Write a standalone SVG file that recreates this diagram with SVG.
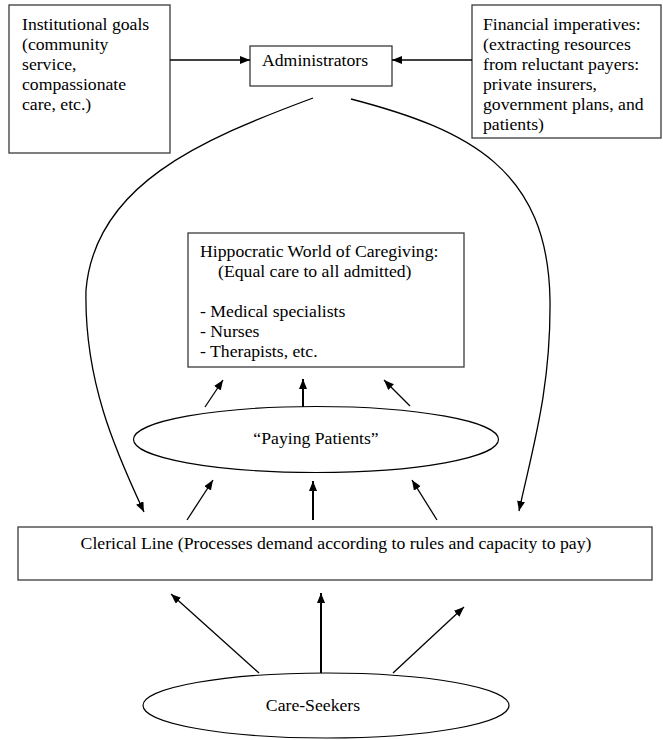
<svg xmlns="http://www.w3.org/2000/svg" width="663" height="740" viewBox="0 0 663 740">
<defs>
<marker id="ah" markerUnits="userSpaceOnUse" markerWidth="11" markerHeight="9" refX="10" refY="4" orient="auto">
<path d="M0,0 L10,4 L0,8 z" fill="#000"/>
</marker>
<style>
.box{fill:#fff;stroke:#3a3a3a;stroke-width:1.3}
.ell{fill:#fff;stroke:#000;stroke-width:1.2}
.t{font-family:"Liberation Serif","Times New Roman",serif;font-size:17.7px;fill:#000}
.c{fill:none;stroke:#000;stroke-width:1.3;marker-end:url(#ah)}
.thick{stroke-width:2}
</style>
</defs>
<rect width="663" height="740" fill="#fff"/>
<g id="institutional">
<rect class="box" x="9" y="5" width="161" height="148"/>
<text class="t" x="22" y="30">Institutional goals</text>
<text class="t" x="22" y="50">(community</text>
<text class="t" x="22" y="70">service,</text>
<text class="t" x="22" y="90">compassionate</text>
<text class="t" x="22" y="110">care, etc.)</text>
</g>
<g id="administrators">
<rect class="box" x="250" y="46" width="142" height="40"/>
<text class="t" x="262" y="66">Administrators</text>
</g>
<g id="financial">
<rect class="box" x="472" y="5" width="189" height="133"/>
<text class="t" x="483" y="30">Financial imperatives:</text>
<text class="t" x="483" y="50">(extracting resources</text>
<text class="t" x="483" y="70">from reluctant payers:</text>
<text class="t" x="483" y="90">private insurers,</text>
<text class="t" x="483" y="110">government plans, and</text>
<text class="t" x="483" y="130">patients)</text>
</g>
<g id="hippocratic">
<rect class="box" x="188" y="233" width="276" height="134"/>
<text class="t" x="200" y="257">Hippocratic World of Caregiving:</text>
<text class="t" x="218" y="277">(Equal care to all admitted)</text>
<text class="t" x="200" y="317">- Medical specialists</text>
<text class="t" x="200" y="337">- Nurses</text>
<text class="t" x="200" y="357">- Therapists, etc.</text>
</g>
<g id="paying-patients">
<ellipse class="ell" cx="316" cy="439.5" rx="182.5" ry="33"/>
<text class="t" x="316" y="444" text-anchor="middle">“Paying Patients”</text>
</g>
<g id="clerical">
<rect class="box" x="18" y="527" width="634" height="53"/>
<text class="t" x="336" y="549" text-anchor="middle">Clerical Line (Processes demand according to rules and capacity to pay)</text>
</g>
<g id="care-seekers">
<ellipse class="ell" cx="326" cy="705.5" rx="183" ry="32.5"/>
<text class="t" x="313" y="711" text-anchor="middle">Care-Seekers</text>
</g>
<g id="connectors">
<line class="c" x1="170" y1="60" x2="250" y2="60"/>
<line class="c" x1="472" y1="60" x2="392" y2="60"/>
<path class="c" d="M313,98 C200,140 95,185 86,290 C84,380 115,450 144,512"/>
<path class="c" d="M351,99 C470,130 548,170 550,300 C551,390 532,450 519,511"/>
<line class="c" x1="205" y1="407" x2="223" y2="380"/>
<line class="c thick" x1="303" y1="407" x2="303" y2="379"/>
<line class="c" x1="410" y1="406" x2="384" y2="380"/>
<line class="c" x1="187" y1="520" x2="213" y2="480"/>
<line class="c thick" x1="313" y1="520" x2="313" y2="481"/>
<line class="c" x1="437" y1="520" x2="412" y2="480"/>
<line class="c" x1="259" y1="673" x2="171" y2="594"/>
<line class="c thick" x1="321" y1="673" x2="321" y2="593"/>
<line class="c" x1="393" y1="673" x2="464" y2="607"/>
</g>
</svg>
